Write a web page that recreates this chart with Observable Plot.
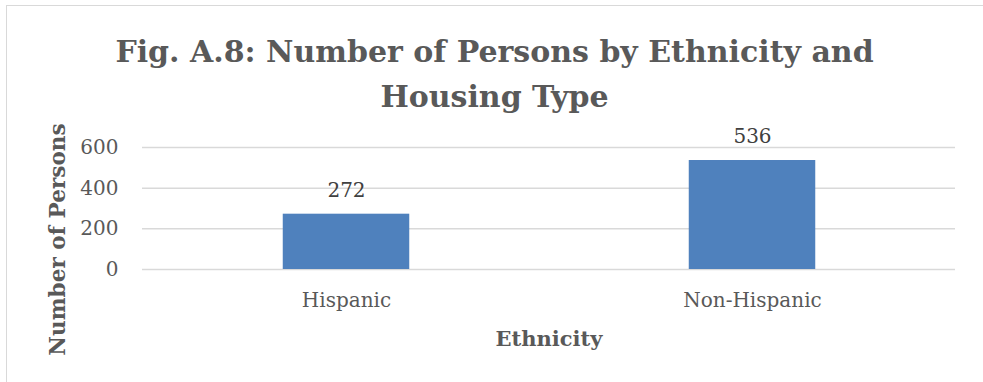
<!DOCTYPE html>
<html><head>
<meta charset="utf-8">
<script src="https://cdn.jsdelivr.net/npm/d3@7"></script>
<script src="https://cdn.jsdelivr.net/npm/@observablehq/plot@0.6"></script>
<style>
  html, body { margin: 0; padding: 0; background: #fff; }
  body { width: 983px; height: 382px; overflow: hidden; position: relative; font-family: "DejaVu Serif", serif; }
  #frame { position: absolute; left: 6px; top: 5px; width: 1100px; height: 500px; border: 1.5px solid #d9d9d9; box-sizing: border-box; }
  #title { position: absolute; left: 0; top: 29px; width: 989px; text-align: center; font-family: "DejaVu Serif", serif; font-weight: bold; font-size: 30px; line-height: 45px; color: #595959; }
  #chart { position: absolute; left: 0; top: 120px; }
</style>
</head><body>
<div id="frame"></div>
<div id="title">Fig. A.8: Number of Persons by Ethnicity and<br>Housing Type</div>
<div id="chart"></div>
<script>
const categories = ["Hispanic", "Non-Hispanic"];
const values = [272, 536];
const yTicks = [0, 200, 400, 600];
const xTitle = "Ethnicity";
const yTitle = "Number of Persons";

const data = categories.map((c, i) => ({ethnicity: c, persons: values[i]}));

const chart = Plot.plot({
  width: 983,
  height: 262,
  marginTop: 27,
  marginBottom: 113,
  marginLeft: 142,
  marginRight: 28,
  style: { fontFamily: "DejaVu Serif", fontSize: "20px", color: "#595959", background: "none", overflow: "visible" },
  x: { type: "band", domain: categories, padding: 0, label: null },
  y: { domain: [0, 600], label: null },
  marks: [
    Plot.ruleY(yTicks, { stroke: "#d9d9d9", strokeWidth: 1.5 }),
    Plot.barY(data, { x: "ethnicity", y: "persons", fill: "#4f81bd", insetLeft: 139.75, insetRight: 139.75 }),
    Plot.text(data, { x: "ethnicity", y: "persons", text: d => String(d.persons), dy: -24, fill: "#404040", fontSize: 20 }),
    Plot.axisY({ ticks: yTicks, tickSize: 0, tickPadding: 24, label: null, fontSize: 20 }),
    Plot.axisX({ tickSize: 0, tickPadding: 23, label: null, fontSize: 20 }),
    Plot.text([xTitle], { frameAnchor: "bottom", lineAnchor: "middle", textAnchor: "middle", dy: 70, fontWeight: "bold", fontSize: 21, fill: "#595959" }),
    Plot.text([yTitle], { frameAnchor: "left", lineAnchor: "middle", textAnchor: "middle", rotate: -90, dx: -84, dy: 31, fontWeight: "bold", fontSize: 21.6, fill: "#595959" })
  ]
});
document.getElementById("chart").appendChild(chart);
</script>
</body></html>
